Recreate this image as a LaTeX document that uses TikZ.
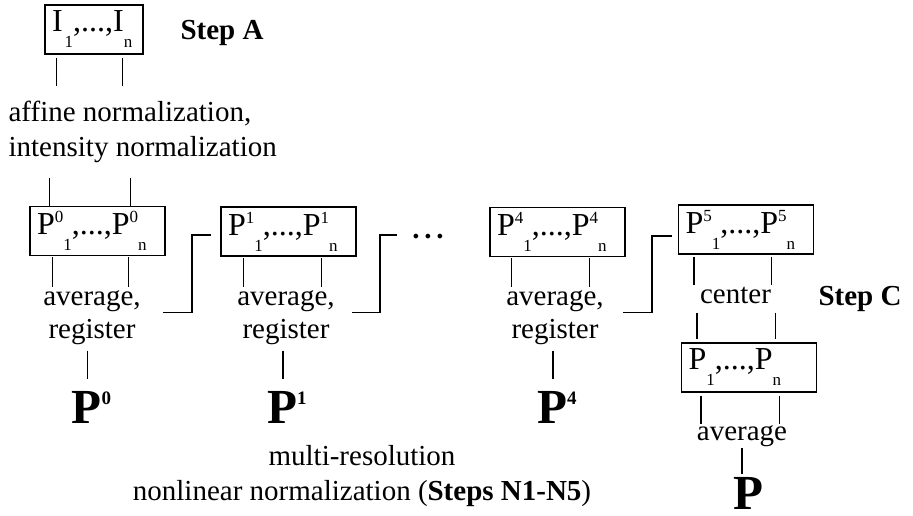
\documentclass[tikz,border=0pt]{standalone}
\usepackage{fontspec}
\setmainfont{Liberation Serif}
\usepackage{tikz}
\usetikzlibrary{positioning}
\newcommand{\supf}[1]{\raisebox{12pt}{\fontsize{17}{17}\selectfont #1}}
\newcommand{\subf}[1]{\raisebox{-16pt}{\fontsize{17}{17}\selectfont #1}}
\newcommand{\bigsup}[1]{\raisebox{19pt}{\fontsize{19}{19}\selectfont\bfseries #1}}

\begin{document}
\begin{tikzpicture}[x=1pt, y=-1pt, line width=1.2pt,
  seqbox/.style={draw, minimum height=49pt, inner xsep=7pt, inner ysep=0pt, text width=121pt, align=left, font=\fontsize{32}{36}\selectfont},
  txt/.style={inner sep=0pt, text height=21pt, text depth=7pt, font=\fontsize{29}{33}\selectfont},
  boldtxt/.style={txt, font=\fontsize{29}{33}\selectfont\bfseries},
  bigp/.style={inner sep=0pt, text height=33pt, text depth=0pt, font=\fontsize{49}{50}\selectfont\bfseries}]
\useasboundingbox (0,0) rectangle (913,516);
\node[seqbox, text width=84pt] (ibox) at (94,29.5) {I\kern2pt\subf{1},...,I\subf{n}};
\node[boldtxt, anchor=base] (stepa) at (222,40) {Step A};
\node[txt, anchor=base west] (aff1) at (8,122) {affine normalization,};
\node[txt, anchor=base west] (aff2) at (8,157) {intensity normalization};
\node[seqbox] (p0) at (97.5,231) {P\supf{0}\subf{1},...,P\supf{0}\subf{n}};
\node[seqbox] (p1) at (288.5,231.5) {P\supf{1}\subf{1},...,P\supf{1}\subf{n}};
\node[boldtxt, anchor=base] (dots) at (428,238.5) {.\kern4.75pt.\kern4.75pt.};
\node[seqbox] (p4) at (557.5,232) {P\supf{4}\subf{1},...,P\supf{4}\subf{n}};
\node[seqbox] (p5) at (746,229.5) {P\supf{5}\subf{1},...,P\supf{5}\subf{n}};
\node[seqbox] (pf) at (749,367.5) {P\subf{1},...,P\subf{n}};
\node[txt, anchor=base] (avg0) at (92,305) {average,};
\node[txt, anchor=base] (reg0) at (92,338) {register};
\node[txt, anchor=base] (avg1) at (286,305) {average,};
\node[txt, anchor=base] (reg1) at (286,338) {register};
\node[txt, anchor=base] (avg4) at (555,305) {average,};
\node[txt, anchor=base] (reg4) at (555,338) {register};
\node[txt, anchor=base] (ctr) at (735.5,303) {center};
\node[boldtxt, anchor=base] (stepc) at (860,305) {Step C};
\node[txt, anchor=base] (avgf) at (742,440) {average};
\node[bigp, anchor=base] (lbl0) at (91.5,423) {P\bigsup{0}};
\node[bigp, anchor=base] (lbl1) at (287,423) {P\bigsup{1}};
\node[bigp, anchor=base] (lbl4) at (557,423) {P\bigsup{4}};
\node[bigp, anchor=base] (lblf) at (748,509) {P};
\node[txt, anchor=base] (mr1) at (362,465) {multi-resolution};
\node[txt, anchor=base] (mr2) at (362,500) {nonlinear normalization (\textbf{Steps N1-N5})};
\coordinate (bend1) at (192,235);
\coordinate (bend2) at (380,235);
\coordinate (bend3) at (652,236);
\draw[shorten <=3pt, shorten >=14pt] ([xshift=12pt]ibox.south west) -- ([xshift=12pt]ibox.south west |- aff1.north);
\draw[shorten <=3pt, shorten >=14pt] ([xshift=-21pt]ibox.south east) -- ([xshift=-21pt]ibox.south east |- aff1.north);
\draw[shorten <=13pt] ([xshift=20pt]p0.north west |- aff2.south) -- ([xshift=20pt]p0.north west);
\draw[shorten <=13pt] ([xshift=-35pt]p0.north east |- aff2.south) -- ([xshift=-35pt]p0.north east);
\draw[shorten <=1pt, shorten >=-4pt] ([xshift=23pt]p0.south west) -- ([xshift=23pt]p0.south west |- avg0.north);
\draw[shorten <=1pt, shorten >=-4pt] ([xshift=-37pt]p0.south east) -- ([xshift=-37pt]p0.south east |- avg0.north);
\draw[shorten <=1pt, shorten >=-4pt] ([xshift=23pt]p1.south west) -- ([xshift=23pt]p1.south west |- avg1.north);
\draw[shorten <=1pt, shorten >=-4pt] ([xshift=-35pt]p1.south east) -- ([xshift=-35pt]p1.south east |- avg1.north);
\draw[shorten <=1pt, shorten >=-4pt] ([xshift=22pt]p4.south west) -- ([xshift=22pt]p4.south west |- avg4.north);
\draw[shorten <=1pt, shorten >=-4pt] ([xshift=-36pt]p4.south east) -- ([xshift=-36pt]p4.south east |- avg4.north);
\draw[shorten <=5pt, shorten >=10pt] ([xshift=-4pt]lbl0.north |- reg0.south) -- ([xshift=-4pt]lbl0.north);
\draw[shorten <=5pt, shorten >=10pt] ([xshift=-4pt]lbl1.north |- reg1.south) -- ([xshift=-4pt]lbl1.north);
\draw[shorten <=5pt, shorten >=10pt] ([xshift=-4pt]lbl4.north |- reg4.south) -- ([xshift=-4pt]lbl4.north);
\draw[shorten <=22pt, shorten >=9pt] (avg0.south east) -| (bend1) -- (bend1 -| p1.west);
\draw[shorten <=17pt, shorten >=15pt] (avg1.south east) -| (bend2) -- (bend2 -| dots.west);
\draw[shorten <=19pt, shorten >=6pt] (avg4.south east) -| (bend3) -- (bend3 -| p5.west);
\draw[shorten <=2pt, shorten >=-4pt] ([xshift=16pt]p5.south west) -- ([xshift=16pt]p5.south west |- ctr.north);
\draw[shorten <=2pt, shorten >=-4pt] ([xshift=-43pt]p5.south east) -- ([xshift=-43pt]p5.south east |- ctr.north);
\draw[shorten <=2pt, shorten >=3pt] ([xshift=16pt]pf.north west |- ctr.south) -- ([xshift=16pt]pf.north west);
\draw[shorten <=2pt, shorten >=3pt] ([xshift=-42pt]pf.north east |- ctr.south) -- ([xshift=-42pt]pf.north east);
\draw[shorten <=3pt, shorten >=-6pt] ([xshift=20pt]pf.south west) -- ([xshift=20pt]pf.south west |- avgf.north);
\draw[shorten <=3pt, shorten >=-6pt] ([xshift=-38pt]pf.south east) -- ([xshift=-38pt]pf.south east |- avgf.north);
\draw[shorten >=1pt] ([xshift=-6pt]lblf.north |- avgf.south) -- ([xshift=-6pt]lblf.north);
\end{tikzpicture}
\end{document}
